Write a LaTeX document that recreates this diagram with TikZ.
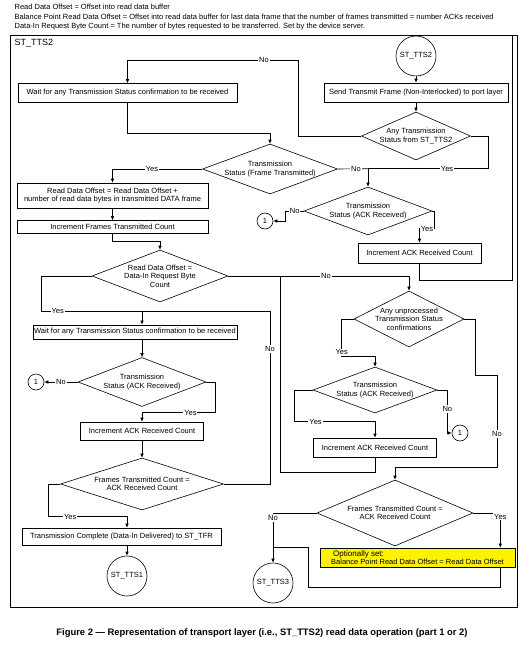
\documentclass[tikz,border=0pt]{standalone}
\usepackage{fontspec}
\setmainfont{Liberation Sans}
\usetikzlibrary{shapes.geometric,arrows.meta}

\begin{document}
\begin{tikzpicture}[x=1pt,y=-1pt,line width=0.6pt,
    every node/.style={font=\fontsize{7.5}{8.5}\selectfont},
    box/.style={draw, rectangle, inner sep=0pt, align=center},
    decision/.style={draw, diamond, inner sep=0pt},
    term/.style={draw, circle, minimum size=40pt, inner sep=0pt},
    conn/.style={draw, circle, minimum size=16pt, inner sep=0pt},
    lbl/.style={fill=white, inner sep=1pt},
    arr/.style={-{Latex[length=4pt,width=3.5pt]}}]
\useasboundingbox (0,0) rectangle (520,650);

\node[anchor=west] (def1) at (11,7) {Read Data Offset = Offset into read data buffer};
\node[anchor=west] (def2) at (11,17) {Balance Point Read Data Offset = Offset into read data buffer for last data frame that the number of frames transmitted = number ACKs received};
\node[anchor=west] (def3) at (11,27) {Data-In Request Byte Count = The number of bytes requested to be transferred. Set by the device server.};
\draw (10,35) rectangle (517,607);
\node[anchor=north west, font=\fontsize{9}{10}\selectfont] (frm) at (11,36) {ST\_TTS2};

\node[term] (tts2) at (416,56) {ST\_TTS2};
\node[box, minimum width=184, minimum height=19] (send) at (416,92.5) {Send Transmit Frame (Non-Interlocked) to port layer};
\node[decision, minimum width=109, minimum height=48, label={[align=center]center:{Any Transmission\\Status from ST\_TTS2}}] (dany) at (416,136) {};
\node[box, minimum width=219, minimum height=19] (wait1) at (127.5,93) {Wait for any Transmission Status confirmation to be received};
\node[decision, minimum width=135, minimum height=50, label={[align=center]center:{Transmission\\Status (Frame Transmitted)}}] (dft) at (270,169) {};
\node[box, minimum width=191, minimum height=25] (rdo) at (112.5,195.5) {Read Data Offset = Read Data Offset +\\number of read data bytes in transmitted DATA frame};
\node[box, minimum width=191, minimum height=13] (ift) at (112.5,227) {Increment Frames Transmitted Count};
\node[decision, minimum width=128, minimum height=48, label={[align=center]center:{Transmission\\Status (ACK Received)}}] (dack1) at (368,211) {};
\node[conn] (one1) at (265,221) {1};
\node[box, minimum width=123, minimum height=20] (iack1) at (419.5,253) {Increment ACK Received Count};

\node[decision, minimum width=136, minimum height=52, label={[align=center]center:{Read Data Offset =\\Data-In Request Byte\\Count}}] (drdo) at (160,276) {};
\coordinate (j1) at (142,311);
\node[box, minimum width=204, minimum height=14] (wait2) at (135,332) {Wait for any Transmission Status confirmation to be received};
\node[decision, minimum width=128, minimum height=49, label={[align=center]center:{Transmission\\Status (ACK Received)}}] (dack2) at (142,382) {};
\node[conn] (one2) at (36,382) {1};
\node[box, minimum width=123, minimum height=18] (iack2) at (142,431) {Increment ACK Received Count};
\node[decision, minimum width=163, minimum height=52, label={[align=center]center:{Frames Transmitted Count =\\ACK Received Count}}] (dftc2) at (142,484) {};
\node[box, minimum width=199, minimum height=17] (tc) at (121.5,536.5) {Transmission Complete (Data-In Delivered) to ST\_TFR};
\node[term] (tts1) at (127,576) {ST\_TTS1};
\coordinate (tcin) at (tts1.north |- tc.north);

\node[decision, minimum width=110, minimum height=56, label={[align=center]center:{Any unprocessed\\Transmission Status\\confirmations}}] (dunp) at (409,319) {};
\node[decision, minimum width=124, minimum height=46, label={[align=center]center:{Transmission\\Status (ACK Received)}}] (dack3) at (375,390) {};
\node[conn] (one3) at (460,433) {1};
\node[box, minimum width=123, minimum height=19] (iack3) at (375,447.5) {Increment ACK Received Count};
\node[decision, minimum width=156, minimum height=66, label={[align=center]center:{Frames Transmitted Count =\\ACK Received Count}}] (dftc3) at (395,513) {};
\node[term] (tts3) at (273,583) {ST\_TTS3};
\node[box, fill=yellow, align=left, minimum width=195, minimum height=19] (opt) at (417.5,557.5) {\hspace{2pt}{\fontsize{8}{9}\selectfont Optionally set:}\\Balance Point Read Data Offset = Read Data Offset};

\draw[arr] (tts2) -- (send);
\draw[arr] (send) -- (dany);
\draw[arr] (dany.west) -| (298,60) -| node[lbl,pos=0.1]{No} (wait1.north);
\draw[arr] (wait1.south) -- ++(0,30) -| (dft.north);
\draw[arr] (dft.west) -| node[lbl,pos=0.28]{Yes} (rdo.north);
\draw[arr] (rdo) -- (ift);
\draw[arr] (dany.east) -- ++(17,0) |- node[lbl,pos=0.67]{Yes} ([yshift=18pt]dack1.north) -- (dack1.north);
\draw (dft.east) -- node[lbl,pos=0.6]{No} ([yshift=18pt]dack1.north);
\draw[arr] (dack1.west) -- node[lbl]{No} ++(-18,0) |- (one1);
\draw[arr] (dack1.east) -- ++(2,0) |- node[lbl,pos=0.75]{Yes} ([yshift=14pt]iack1.north) -- (iack1.north);
\draw (iack1.south) |- (512,280) -- (512,35);

\draw[arr] (ift.south) -- ++(0,7) -| (drdo.north);
\draw (drdo.west) -- ++(-50,0) |- node[lbl,pos=0.58]{Yes} (j1);
\draw[arr] (j1) -- (j1 |- wait2.north);
\draw[arr] (dack2.north |- wait2.south) -- (dack2.north);
\draw[arr] (dack2.west) -- node[lbl]{No} (one2);
\draw[arr] (dack2.east) -- ++(9,0) |- node[lbl,pos=0.67]{Yes} ([yshift=9pt]iack2.north) -- (iack2.north);
\draw[arr] (iack2) -- (dftc2);
\draw[arr] (dftc2.west) -- ++(-12,0) |- node[lbl,pos=0.64]{Yes} ([yshift=11pt]tcin) -- (tcin);
\draw[arr] (tcin |- tc.south) -- (tts1);
\draw (dftc2.east) -| node[lbl,pos=0.89]{No} (270,311) -- (j1);

\draw[arr] (drdo.east) -| node[lbl,pos=0.27]{No} (dunp.north);
\draw[arr] (dunp.west) -- ++(-12,0) -- node[lbl,pos=0.9]{Yes} ++(0,37) -| (dack3.north);
\draw[arr] (dack3.west) -- ++(-18,0) |- node[lbl,pos=0.63]{Yes} ([yshift=16pt]iack3.north) -- (iack3.north);
\draw[arr] (dack3.east) -- ++(10,0) |- node[lbl,pos=0.22]{No} (one3);
\draw (iack3.south) |- (280,472) -- (280,276);
\draw[arr] (dunp.east) -- ++(11,0) |- (497,375) -- node[lbl,pos=0.64]{No} (497,467) -| (dftc3.north);
\draw[arr] (dftc3.west) -| node[lbl,pos=0.55]{No} (tts3.north);
\draw[arr] (dftc3.east) -| node[lbl,pos=0.55]{Yes} ([xshift=-15pt]opt.north east);
\draw ([xshift=-15pt]opt.south east) |- (308,587) |- (tts3.north |- opt.north);

\node[font=\bfseries\fontsize{9.4}{10}\selectfont] (cap) at (262,633) {Figure 2 --- Representation of transport layer (i.e., ST\_TTS2) read data operation (part 1 or 2)};
\end{tikzpicture}
\end{document}
